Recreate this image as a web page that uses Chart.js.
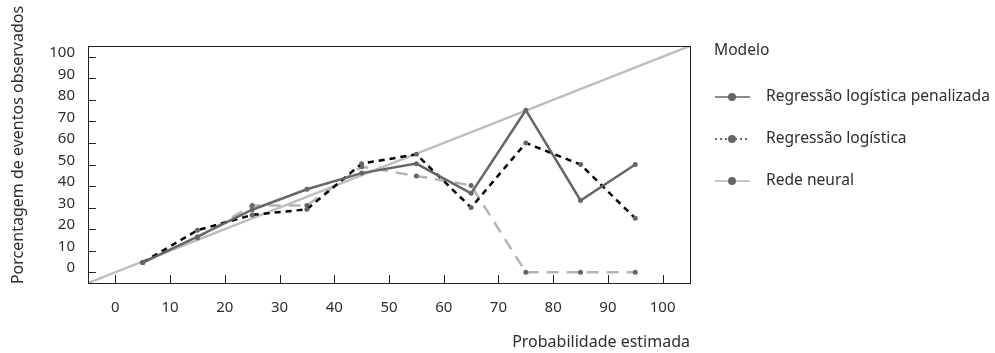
<!DOCTYPE html>
<html>
<head>
<meta charset="utf-8">
<script src="https://cdn.jsdelivr.net/npm/chart.js@4/dist/chart.umd.min.js"></script>
<style>
  html, body { margin: 0; padding: 0; background: #fff; }
</style>
</head>
<body>
<canvas id="calibChart" width="995" height="353"></canvas>
<script>
// bin centres (estimated probability, %)
const bins = [5, 15, 25, 35, 45, 55, 65, 75, 85, 95];

// observed event percentage per model
const penalizada = [4.5, 16.5, 29, 38.5, 46, 50.4, 36.6, 75.2, 33.3, 50];
const logistica  = [4.5, 19.5, 26.6, 29.2, 50.4, 54.7, 30, 60, 50, 25];
const redeNeural = [4.5, 16, 31, 31, 49, 44.7, 40.3, 0, 0, 0];

// reference line (perfect calibration)
const diagonal = [-5, 105];

const xTicks = [0, 10, 20, 30, 40, 50, 60, 70, 80, 90, 100];
const yTicks = [0, 10, 20, 30, 40, 50, 60, 70, 80, 90, 100];

const legendTitle = 'Modelo';
const modelNames = ['Regressão logística penalizada', 'Regressão logística', 'Rede neural'];

const FONT = '"Noto Sans", "Open Sans", sans-serif';
const TEXT = '#2e2e2e';
const POINT = '#666';

function toXY(xs, ys) {
    return xs.map(function(x, i) { return { x: x, y: ys[i] }; });
}

// inward tick marks + frame
const framePlugin = {
    id: 'frame',
    afterDatasetsDraw: function(chart) {
        const ctx = chart.ctx;
        const a = chart.chartArea;
        const xs = chart.scales.x;
        const ys = chart.scales.y;
        ctx.save();
        ctx.strokeStyle = '#222';
        ctx.lineWidth = 1;
        ctx.beginPath();
        xTicks.forEach(function(v) {
            const px = Math.round(xs.getPixelForValue(v)) + 0.5;
            ctx.moveTo(px, a.bottom);
            ctx.lineTo(px, a.bottom - 8);
        });
        yTicks.forEach(function(v) {
            const py = Math.round(ys.getPixelForValue(v)) + 0.5;
            ctx.moveTo(a.left, py);
            ctx.lineTo(a.left + 8, py);
        });
        ctx.stroke();
        ctx.strokeRect(Math.round(a.left) + 0.5, Math.round(a.top) + 0.5,
                       Math.round(a.right - a.left), Math.round(a.bottom - a.top));
        ctx.restore();
    }
};

// axis titles + legend drawn next to the plot
const labelsPlugin = {
    id: 'labels',
    afterDraw: function(chart) {
        const ctx = chart.ctx;
        const a = chart.chartArea;
        ctx.save();
        ctx.fillStyle = TEXT;
        ctx.font = '16px ' + FONT;

        // x title
        ctx.textAlign = 'right';
        ctx.textBaseline = 'middle';
        ctx.fillText('Probabilidade estimada', a.right, 342);

        // y title
        ctx.save();
        ctx.translate(18, 145);
        ctx.rotate(-Math.PI / 2);
        ctx.textAlign = 'center';
        ctx.fillText('Porcentagem de eventos observados', 0, 0);
        ctx.restore();

        // legend
        const lx = a.right + 24;
        ctx.font = '15.6px ' + FONT;
        ctx.textAlign = 'left';
        ctx.fillText(legendTitle, lx, 51);
        chart.data.datasets.forEach(function(ds) {
            if (ds.legendIndex === undefined) return;
            const y = 97 + ds.legendIndex * 42;
            ctx.save();
            ctx.strokeStyle = ds.legendColor;
            ctx.lineWidth = 1.5;
            ctx.setLineDash(ds.legendDash || []);
            ctx.beginPath();
            ctx.moveTo(lx + 1, y);
            ctx.lineTo(lx + 36, y);
            ctx.stroke();
            ctx.setLineDash([]);
            ctx.fillStyle = POINT;
            ctx.beginPath();
            ctx.arc(lx + 18, y, 4, 0, Math.PI * 2);
            ctx.fill();
            ctx.restore();
            ctx.fillText(ds.label, lx + 52, y);
        });
        ctx.restore();
    }
};

const ctx = document.getElementById('calibChart').getContext('2d');

new Chart(ctx, {
    type: 'line',
    data: {
        datasets: [{
            label: 'diagonal',
            data: toXY(diagonal, diagonal),
            borderColor: '#bdbdbd',
            borderWidth: 2.5,
            pointRadius: 0,
            order: 4
        }, {
            label: modelNames[2],
            data: toXY(bins, redeNeural),
            borderColor: '#b5b5b5',
            borderWidth: 2.5,
            borderDash: [12, 8],
            pointRadius: 2.5,
            pointBackgroundColor: POINT,
            pointBorderWidth: 0,
            legendIndex: 2,
            legendColor: '#b5b5b5',
            order: 3
        }, {
            label: modelNames[1],
            data: toXY(bins, logistica),
            borderColor: '#000',
            borderWidth: 2.5,
            borderDash: [6, 5],
            pointRadius: 2.5,
            pointBackgroundColor: POINT,
            pointBorderWidth: 0,
            legendIndex: 1,
            legendColor: '#333',
            legendDash: [2, 3],
            order: 2
        }, {
            label: modelNames[0],
            data: toXY(bins, penalizada),
            borderColor: '#666',
            borderWidth: 2.5,
            pointRadius: 2.5,
            pointBackgroundColor: POINT,
            pointBorderWidth: 0,
            legendIndex: 0,
            legendColor: '#666',
            order: 1
        }]
    },
    options: {
        responsive: false,
        animation: false,
        layout: { padding: { top: 46, right: 305, left: 0, bottom: 0 } },
        plugins: {
            legend: { display: false },
            tooltip: { enabled: false }
        },
        scales: {
            x: {
                type: 'linear',
                min: -5,
                max: 105,
                afterBuildTicks: function(s) { s.ticks = xTicks.map(function(v) { return { value: v }; }); },
                afterFit: function(s) { s.height = 353 - 283; },
                grid: { display: false, drawTicks: false },
                border: { display: false },
                ticks: { padding: 16, color: TEXT, font: { family: FONT, size: 15 } }
            },
            y: {
                type: 'linear',
                min: -5,
                max: 105,
                afterBuildTicks: function(s) { s.ticks = yTicks.map(function(v) { return { value: v }; }); },
                afterFit: function(s) { s.width = 88; },
                grid: { display: false, drawTicks: false },
                border: { display: false },
                ticks: { padding: 13, labelOffset: -4, color: TEXT, font: { family: FONT, size: 15 } }
            }
        }
    },
    plugins: [framePlugin, labelsPlugin]
});
</script>
</body>
</html>
